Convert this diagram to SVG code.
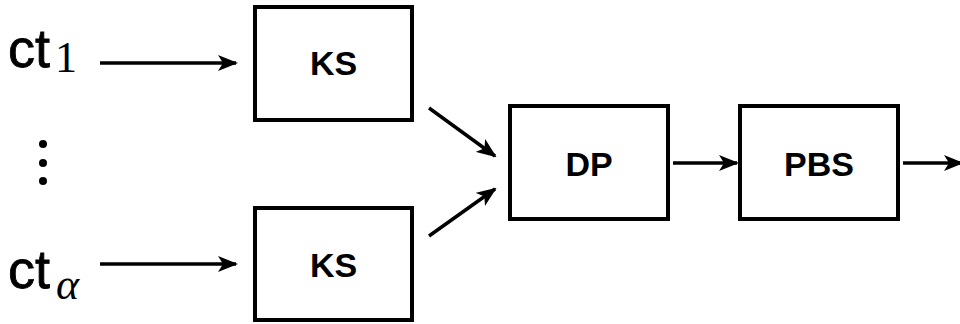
<svg xmlns="http://www.w3.org/2000/svg" width="960" height="324" viewBox="0 0 960 324">
<style>
.box{fill:#fff;stroke:#000;stroke-width:4}
.lbl{font-family:"Liberation Sans",Arial,sans-serif;font-weight:bold;font-size:34px;text-anchor:middle;fill:#000}
.ct{font-family:"Liberation Sans",Arial,sans-serif;font-size:54px;fill:#000;stroke:#000;stroke-width:0.8}
.sub{font-family:"Liberation Serif","Times New Roman",serif;font-size:44px;fill:#000}
.conn{stroke:#000;stroke-width:3.5;fill:none;marker-end:url(#ah)}
</style>
<defs>
<marker id="ah" viewBox="0 0 20 16" refX="18" refY="8" markerWidth="20" markerHeight="16" markerUnits="userSpaceOnUse" orient="auto">
<path d="M0,0 L20,8 L0,16 L5,8 Z" fill="#000"/>
</marker>
</defs>
<g id="ct1">
<text class="ct" x="8" y="67">ct</text>
<text class="sub" x="55" y="72">1</text>
</g>
<g id="dots">
<circle cx="43" cy="144" r="4"/>
<circle cx="43" cy="163" r="4"/>
<circle cx="43" cy="181" r="4"/>
</g>
<g id="cta">
<text class="ct" x="8" y="288">ct</text>
<text class="sub" x="56" y="299" font-style="italic">α</text>
</g>
<g id="ks1">
<rect class="box" x="255" y="7" width="157" height="113"/>
<text class="lbl" x="333.5" y="75">KS</text>
</g>
<g id="ks2">
<rect class="box" x="255" y="208" width="157" height="112"/>
<text class="lbl" x="333.5" y="277">KS</text>
</g>
<g id="dp">
<rect class="box" x="510" y="106" width="158" height="113"/>
<text class="lbl" x="589" y="176">DP</text>
</g>
<g id="pbs">
<rect class="box" x="740" y="106" width="158" height="113"/>
<text class="lbl" x="819" y="176">PBS</text>
</g>
<g id="connectors">
<line class="conn" x1="100" y1="63" x2="236" y2="63"/>
<line class="conn" x1="100" y1="264" x2="236" y2="264"/>
<line class="conn" x1="429" y1="108" x2="495" y2="156"/>
<line class="conn" x1="429" y1="236" x2="495" y2="189"/>
<line class="conn" x1="673" y1="163" x2="737" y2="163"/>
<line class="conn" x1="903" y1="163" x2="962" y2="163"/>
</g>
</svg>
